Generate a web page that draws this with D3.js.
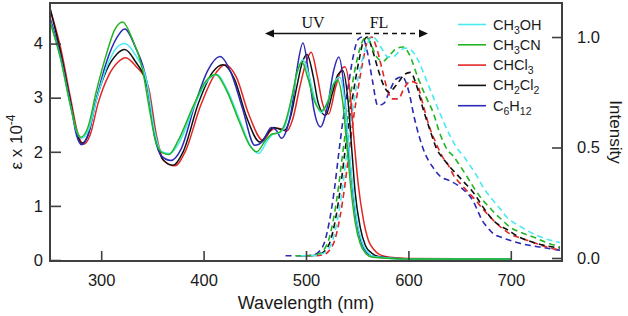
<!DOCTYPE html>
<html>
<head>
<meta charset="utf-8">
<script src="https://cdn.jsdelivr.net/npm/d3@7"></script>
<style>
  html, body { margin: 0; padding: 0; background: #fff; }
  svg { display: block; }
</style>
</head>
<body>
<svg id="chart" width="628" height="316"></svg>
<script>
// ---------- DATA ----------
const solvents = ["CH3OH", "CH3CN", "CHCl3", "CH2Cl2", "C6H12"];
const xTicks = [300, 400, 500, 600, 700];
const yLeftTicks = [0, 1, 2, 3, 4];
const yRightTicks = [0.0, 0.5, 1.0];

// Absorption: [wavelength nm, epsilon x 10^-4]
const absCH3OH = [[250,4.42],[260,3.75],[270,2.85],[276,2.38],[281,2.25],[288,2.42],[296,3.0],[306,3.6],[315,3.92],[323,4.0],[333,3.8],[345,3.25],[352,2.4],[359,2.0],[367,1.97],[377,2.2],[391,2.85],[403,3.3],[413,3.43],[423,3.15],[436,2.55],[446,2.1],[454,1.97],[462,2.2],[468,2.33],[474,2.35],[480,2.5],[487,3.05],[492,3.5],[497,3.70],[503,3.4],[509,2.95],[515,2.72],[522,2.98],[528,3.3],[533,3.38],[538,2.9],[542,2.05],[546,1.3],[550,0.7],[555,0.32],[560,0.15],[567,0.06],[600,0.02],[700,0.02]];
const absCH3CN = [[250,4.4],[260,3.75],[270,2.85],[276,2.4],[280,2.27],[287,2.45],[295,3.1],[305,3.8],[313,4.25],[321,4.4],[330,4.1],[340,3.55],[347,2.8],[353,2.2],[360,1.98],[366,1.95],[375,2.2],[390,2.85],[402,3.3],[412,3.43],[422,3.15],[435,2.55],[445,2.12],[452,2.0],[460,2.2],[467,2.33],[473,2.35],[479,2.5],[486,3.0],[491,3.45],[496,3.66],[502,3.35],[508,2.95],[515,2.76],[522,2.95],[527,3.25],[531,3.32],[536,2.9],[540,2.1],[544,1.3],[548,0.7],[553,0.3],[558,0.13],[565,0.05],[600,0.02],[700,0.02]];
const absCHCl3 = [[250,4.65],[260,3.95],[270,3.0],[277,2.35],[283,2.14],[289,2.3],[297,2.9],[307,3.4],[316,3.65],[324,3.74],[333,3.6],[346,3.2],[354,2.3],[361,1.84],[372,1.74],[382,2.0],[397,2.85],[410,3.4],[421,3.61],[432,3.38],[444,2.7],[458,2.21],[465,2.38],[470,2.44],[476,2.42],[481,2.38],[487,2.6],[494,3.2],[500,3.65],[505,3.84],[511,3.4],[516,2.9],[522,2.7],[529,3.2],[534,3.5],[538,3.57],[543,3.1],[547,2.2],[551,1.4],[556,0.75],[561,0.36],[566,0.2],[572,0.1],[582,0.05],[600,0.03],[700,0.02]];
const absCH2Cl2 = [[250,4.65],[260,3.87],[270,2.92],[276,2.36],[281,2.16],[287,2.3],[295,2.95],[305,3.5],[315,3.8],[323,3.89],[333,3.68],[345,3.2],[353,2.3],[360,1.86],[370,1.75],[380,2.0],[395,2.9],[408,3.45],[419,3.61],[430,3.35],[442,2.64],[455,2.18],[463,2.35],[468,2.45],[474,2.42],[479,2.4],[485,2.65],[491,3.2],[496,3.63],[501,3.8],[507,3.4],[512,2.9],[519,2.67],[526,3.1],[531,3.42],[536,3.5],[541,2.95],[545,1.97],[548,1.25],[553,0.6],[558,0.27],[564,0.13],[572,0.06],[600,0.02],[700,0.01]];
const absC6H12 = [[250,4.48],[260,3.8],[270,2.9],[276,2.3],[281,2.13],[287,2.3],[295,2.95],[305,3.65],[315,4.1],[323,4.27],[333,3.95],[345,3.25],[352,2.3],[359,1.92],[368,1.84],[378,2.05],[392,2.9],[404,3.5],[416,3.76],[427,3.45],[438,2.8],[450,2.12],[458,2.2],[466,2.45],[471,2.4],[476,2.25],[481,2.4],[486,2.8],[491,3.5],[497,4.01],[503,3.4],[508,2.75],[514,2.46],[521,2.85],[527,3.5],[532,3.75],[537,3.2],[541,2.2],[545,1.4],[549,0.75],[554,0.33],[559,0.15],[567,0.06],[600,0.02],[700,0.01]];

// Fluorescence: [wavelength nm, normalized intensity]
const flCH3OH = [[495,0.01],[505,0.01],[513,0.015],[520,0.03],[526,0.08],[531,0.18],[536,0.33],[540,0.48],[544,0.62],[549,0.77],[554,0.88],[559,0.96],[565,1.0],[570,0.98],[575,0.94],[580,0.91],[585,0.91],[591,0.935],[597,0.95],[603,0.94],[610,0.89],[618,0.8],[625,0.72],[634,0.62],[641,0.55],[647,0.5],[654,0.46],[660,0.42],[667,0.37],[673,0.32],[681,0.27],[690,0.22],[697,0.18],[703,0.16],[712,0.135],[722,0.11],[735,0.085],[748,0.07]];
const flCH3CN = [[490,0.01],[500,0.01],[510,0.015],[516,0.03],[522,0.08],[527,0.18],[532,0.33],[536,0.48],[540,0.62],[545,0.78],[550,0.9],[555,0.98],[559,1.0],[564,0.96],[569,0.91],[575,0.89],[582,0.92],[589,0.95],[595,0.955],[601,0.92],[609,0.82],[617,0.73],[624,0.66],[631,0.56],[638,0.49],[644,0.46],[650,0.42],[657,0.37],[665,0.31],[673,0.26],[679,0.23],[685,0.2],[692,0.17],[699,0.14],[710,0.115],[722,0.095],[735,0.07],[748,0.05]];
const flCHCl3 = [[500,0.01],[510,0.01],[517,0.015],[522,0.03],[528,0.08],[533,0.18],[538,0.33],[542,0.48],[546,0.62],[551,0.77],[556,0.9],[560,0.98],[564,1.0],[569,0.95],[574,0.86],[579,0.77],[584,0.72],[590,0.72],[596,0.77],[602,0.8],[608,0.79],[614,0.7],[620,0.6],[627,0.52],[633,0.46],[639,0.42],[644,0.375],[650,0.34],[656,0.31],[660,0.29],[666,0.26],[673,0.22],[678,0.195],[683,0.17],[690,0.14],[699,0.11],[710,0.09],[722,0.07],[735,0.05],[748,0.035]];
const flCH2Cl2 = [[495,0.01],[505,0.01],[512,0.015],[518,0.03],[524,0.08],[529,0.18],[534,0.33],[538,0.48],[542,0.62],[547,0.77],[552,0.9],[556,0.98],[560,1.0],[565,0.94],[570,0.86],[575,0.79],[581,0.75],[586,0.77],[591,0.8],[596,0.83],[602,0.84],[608,0.78],[614,0.68],[621,0.58],[628,0.49],[634,0.45],[641,0.41],[648,0.375],[655,0.34],[661,0.31],[666,0.28],[670,0.25],[676,0.21],[683,0.17],[690,0.145],[697,0.127],[706,0.1],[716,0.08],[730,0.06],[748,0.045]];
const flC6H12 = [[480,0.01],[490,0.01],[500,0.01],[508,0.015],[513,0.03],[518,0.07],[523,0.17],[528,0.32],[532,0.475],[536,0.62],[541,0.77],[546,0.91],[551,0.99],[555,1.0],[560,0.93],[565,0.8],[570,0.69],[576,0.7],[582,0.76],[588,0.81],[594,0.82],[600,0.76],[606,0.63],[616,0.475],[624,0.41],[631,0.37],[640,0.35],[648,0.33],[656,0.3],[663,0.26],[668,0.21],[672,0.17],[677,0.14],[683,0.11],[690,0.095],[699,0.08],[710,0.065],[728,0.05],[748,0.035]];

const colors = { CH3OH: "#48eaf0", CH3CN: "#22b422", CHCl3: "#e22626", CH2Cl2: "#111111", C6H12: "#2a2ab4" };

// ---------- CHART ----------
const svg = d3.select("#chart");
const L = 50, R = 562, T = 3, B = 261;
const x = d3.scaleLinear().domain([250, 750]).range([L, R]);
const yL = d3.scaleLinear().domain([-0.018, 4.75]).range([B, T]);
const yR = d3.scaleLinear().domain([-0.0136, 1.154]).range([B, T]);

svg.append("defs").append("clipPath").attr("id", "clip")
  .append("rect").attr("x", L).attr("y", T).attr("width", R - L).attr("height", B - T);

const plot = svg.append("g").attr("clip-path", "url(#clip)");

const absSeries = [
  ["CHCl3", absCHCl3], ["CH2Cl2", absCH2Cl2], ["C6H12", absC6H12], ["CH3OH", absCH3OH], ["CH3CN", absCH3CN]
];
const flSeries = [
  ["C6H12", flC6H12], ["CHCl3", flCHCl3], ["CH2Cl2", flCH2Cl2], ["CH3CN", flCH3CN], ["CH3OH", flCH3OH]
];

const lineAbs = d3.line().x(d => x(d[0])).y(d => yL(d[1])).curve(d3.curveMonotoneX);
const lineFl = d3.line().x(d => x(d[0])).y(d => yR(d[1])).curve(d3.curveMonotoneX);

flSeries.forEach(([k, data]) => {
  plot.append("path").attr("d", lineFl(data)).attr("fill", "none")
    .attr("stroke", colors[k]).attr("stroke-width", 1.6)
    .attr("stroke-dasharray", "6,4");
});
absSeries.forEach(([k, data]) => {
  plot.append("path").attr("d", lineAbs(data)).attr("fill", "none")
    .attr("stroke", colors[k]).attr("stroke-width", 1.5);
});

// Axes
const axisColor = "#404040";
const font = "'Liberation Sans', Arial, Helvetica, sans-serif";

const gx = svg.append("g").attr("transform", `translate(0,${B})`)
  .call(d3.axisBottom(x).tickValues(xTicks).tickSizeInner(-10).tickSizeOuter(0).tickPadding(13));
const gyl = svg.append("g").attr("transform", `translate(${L},0)`)
  .call(d3.axisLeft(yL).tickValues(yLeftTicks).tickSizeInner(-11).tickSizeOuter(0).tickPadding(7).tickFormat(d3.format("d")));
const gyr = svg.append("g").attr("transform", `translate(${R},0)`)
  .call(d3.axisRight(yR).tickValues(yRightTicks).tickSizeInner(-10).tickSizeOuter(0).tickPadding(15).tickFormat(d3.format(".1f")));

[gx, gyl, gyr].forEach(g => {
  g.select(".domain").remove();
  g.selectAll(".tick line").attr("stroke", axisColor).attr("stroke-width", 1.6);
  g.selectAll(".tick text").attr("fill", "#1a1a1a").style("font-family", font).style("font-size", "16.5px");
});

// Frame
svg.append("rect").attr("x", L).attr("y", T).attr("width", R - L).attr("height", B - T)
  .attr("fill", "none").attr("stroke", axisColor).attr("stroke-width", 2);

// Axis titles
svg.append("text").attr("x", (x(500))).attr("y", 309).attr("text-anchor", "middle")
  .style("font-family", font).style("font-size", "18px").attr("fill", "#1a1a1a")
  .text("Wavelength (nm)");

const yt = svg.append("text").attr("transform", "translate(22,142) rotate(-90)")
  .attr("text-anchor", "middle").style("font-family", font).style("font-size", "17px").attr("fill", "#1a1a1a");
yt.append("tspan").text("ε x 10");
yt.append("tspan").attr("dy", -7).style("font-size", "12px").text("-4");

svg.append("text").attr("transform", "translate(610,132) rotate(90)")
  .attr("text-anchor", "middle").style("font-family", font).style("font-size", "17px").attr("fill", "#1a1a1a")
  .text("Intensity");

// UV / FL annotation
const serif = "'Liberation Serif', 'Times New Roman', serif";
svg.append("text").attr("x", 313).attr("y", 28).attr("text-anchor", "middle")
  .style("font-family", serif).style("font-size", "16px").attr("fill", "#111").text("UV");
svg.append("text").attr("x", 379).attr("y", 28).attr("text-anchor", "middle")
  .style("font-family", serif).style("font-size", "16px").attr("fill", "#111").text("FL");
const ay = 33.5;
svg.append("line").attr("x1", 272).attr("x2", 347).attr("y1", ay).attr("y2", ay)
  .attr("stroke", "#111").attr("stroke-width", 1.6);
svg.append("line").attr("x1", 347).attr("x2", 420).attr("y1", ay).attr("y2", ay)
  .attr("stroke", "#111").attr("stroke-width", 1.6).attr("stroke-dasharray", "5,4");
svg.append("path").attr("d", `M265,${ay} L274,${ay - 4} L274,${ay + 4} Z`).attr("fill", "#111");
svg.append("path").attr("d", `M428,${ay} L419,${ay - 4} L419,${ay + 4} Z`).attr("fill", "#111");

// Legend
const legendLabels = {
  CH3OH: [["CH", 0], ["3", 1], ["OH", 0]],
  CH3CN: [["CH", 0], ["3", 1], ["CN", 0]],
  CHCl3: [["CHCl", 0], ["3", 1]],
  CH2Cl2: [["CH", 0], ["2", 1], ["Cl", 0], ["2", 1]],
  C6H12: [["C", 0], ["6", 1], ["H", 0], ["12", 1]]
};
const leg = svg.append("g");
solvents.forEach((k, i) => {
  const ly = 24.5 + i * 20.3;
  leg.append("line").attr("x1", 458).attr("x2", 486).attr("y1", ly).attr("y2", ly)
    .attr("stroke", colors[k]).attr("stroke-width", 1.6);
  const t = leg.append("text").attr("x", 493).attr("y", ly + 5)
    .style("font-family", font).style("font-size", "14.5px").attr("fill", "#1a1a1a");
  let sub = 0;
  legendLabels[k].forEach(([s, isSub]) => {
    const ts = t.append("tspan").text(s);
    if (isSub && !sub) { ts.attr("dy", 4).style("font-size", "10.5px"); sub = 1; }
    else if (isSub && sub) { ts.style("font-size", "10.5px"); }
    else if (!isSub && sub) { ts.attr("dy", -4); sub = 0; }
  });
});
</script>
</body>
</html>
